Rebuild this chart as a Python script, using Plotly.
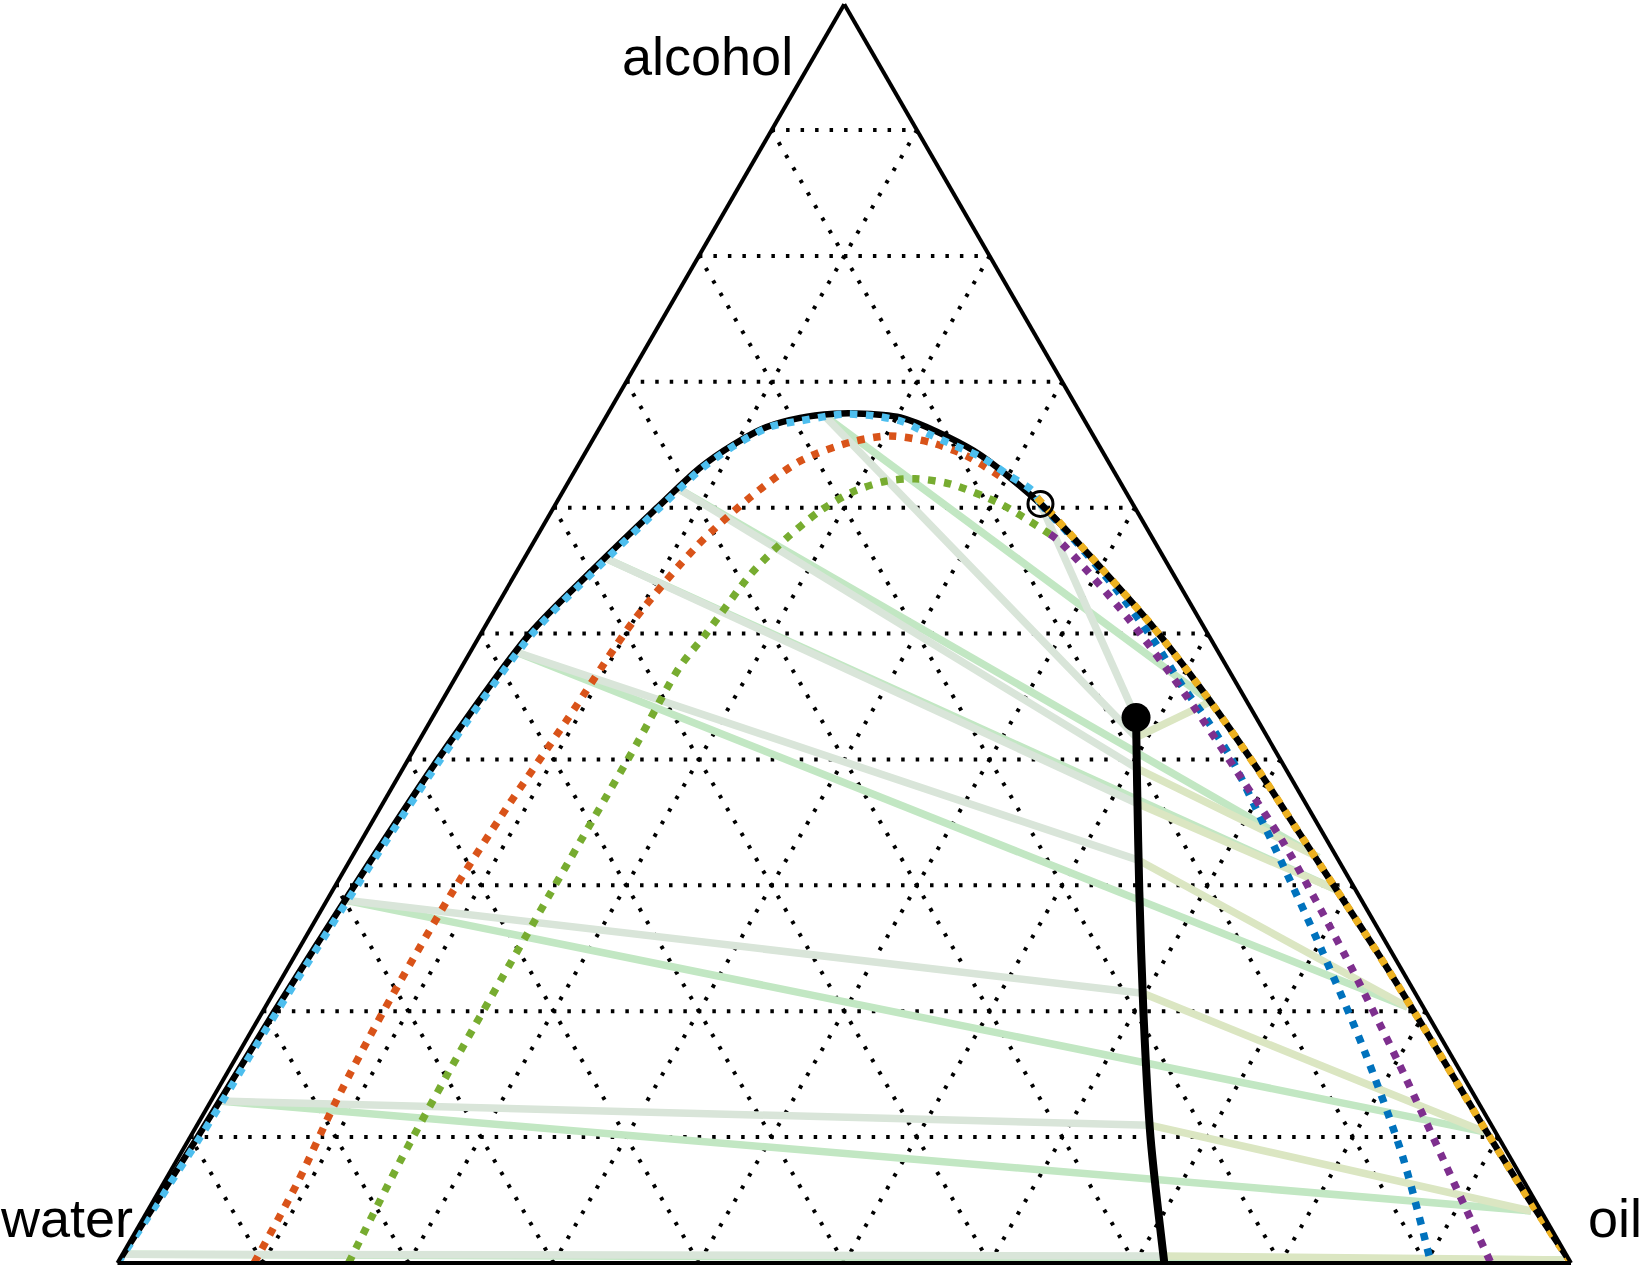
import plotly.graph_objects as go

# --- measured binodal (black), alcohol / oil fractions; water = 1 - a - c
bin_alc = [0, 0.1, 0.2, 0.3, 0.4, 0.5, 0.55, 0.6, 0.6317, 0.65, 0.6643, 0.6714, 0.6746, 0.675,
           0.6717, 0.6452, 0.603, 0.5526, 0.5077, 0.4494, 0.3887, 0.3437, 0.2488, 0.1955,
           0.106, 0.0474, 0]
bin_oil = [0, 0.0051, 0.0081, 0.0132, 0.0204, 0.0337, 0.0514, 0.0712, 0.0849, 0.0986, 0.1149,
           0.134, 0.1558, 0.168, 0.2027, 0.2665, 0.3335, 0.400, 0.4569, 0.5251, 0.5922, 0.640,
           0.7412, 0.7965, 0.888, 0.9491, 1.0]

# model 1: light blue (water-rich side) + yellow (oil-rich side)
m1_left_alc = [0, 0.1, 0.2, 0.3, 0.4, 0.5, 0.55, 0.6, 0.6317, 0.65, 0.6643, 0.669, 0.6743,
               0.673, 0.6685, 0.6585, 0.6492, 0.6399, 0.6267, 0.6135, 0.603]
m1_left_oil = [0, 0.0069, 0.0099, 0.015, 0.0222, 0.0355, 0.0532, 0.073, 0.0867, 0.1004, 0.1167,
               0.1352, 0.1623, 0.1837, 0.2055, 0.2289, 0.2518, 0.2748, 0.2986, 0.3226, 0.3335]
m1_right_alc = [0.608, 0.5526, 0.5077, 0.4494, 0.3887, 0.3437, 0.2488, 0.1955, 0.106, 0.0474, 0]
m1_right_oil = [0.3286, 0.400, 0.4569, 0.5251, 0.5922, 0.640, 0.7412, 0.7965, 0.888, 0.9491, 1.0]

# model 2: vermillion + blue
m2_left_alc = [0, 0.063, 0.13, 0.2, 0.292, 0.362, 0.431, 0.51, 0.57, 0.608, 0.637, 0.652,
               0.657, 0.652, 0.641, 0.622]
m2_left_oil = [0.094, 0.092, 0.086, 0.083, 0.083, 0.087, 0.0935, 0.100, 0.114, 0.131, 0.151,
               0.178, 0.203, 0.233, 0.264, 0.300]
m2_right_alc = [0.603, 0.5762, 0.5341, 0.4944, 0.4606, 0.431, 0.4018, 0.3635, 0.3383, 0.2471,
                0.169, 0.0848, 0]
m2_right_oil = [0.3335, 0.3689, 0.4208, 0.4658, 0.5011, 0.5343, 0.5649, 0.6005, 0.6237, 0.7055,
                0.7732, 0.8417, 0.9036]

# model 3: green + purple
m3_left_alc = [0, 0.082, 0.153, 0.292, 0.354, 0.413, 0.473, 0.5, 0.547, 0.575, 0.598, 0.613,
               0.621, 0.623, 0.619, 0.603, 0.579]
m3_left_oil = [0.159, 0.154, 0.152, 0.151, 0.151, 0.151, 0.150, 0.155, 0.162, 0.172, 0.185,
               0.2, 0.218, 0.237, 0.263, 0.306, 0.352]
m3_right_alc = [0.579, 0.5725, 0.5129, 0.4494, 0.386, 0.3331, 0.2458, 0.1611, 0.0633, 0]
m3_right_oil = [0.352, 0.3626, 0.4383, 0.5113, 0.5797, 0.636, 0.721, 0.800, 0.888, 0.9449]

# dilution path (thick black) and plait point
path_alc = [0.4333, 0.3786, 0.2952, 0.2, 0.1, 0]
path_oil = [0.4841, 0.5122, 0.5554, 0.6058, 0.6607, 0.7202]
plait_alc, plait_oil = [0.603], [0.3335]

# tie lines: left end, point on path, right end
tie_l_alc = [0.673, 0.6161, 0.5606, 0.4852, 0.2881, 0.1286, 0.007]
tie_l_oil = [0.150, 0.0764, 0.0541, 0.032, 0.013, 0.006, 0.001]
tie_p_alc = [0.4175, 0.393, 0.365, 0.3198, 0.2143, 0.1095, 0.0056]
tie_p_oil = [0.4922, 0.5048, 0.5192, 0.5429, 0.5982, 0.6555, 0.7169]
tie_r_alc = [0.446, 0.3222, 0.296, 0.2034, 0.1042, 0.0413, 0.0024]
tie_r_oil = [0.5291, 0.6653, 0.6915, 0.7858, 0.8882, 0.9519, 0.994]


def water(alc, oil):
    return [None if a is None else 1 - a - c for a, c in zip(alc, oil)]


def segments(a0, c0, a1, c1):
    alc, oil = [], []
    for p, q, r, s in zip(a0, c0, a1, c1):
        alc += [p, r, None]
        oil += [q, s, None]
    return alc, oil


def line(alc, oil, color, width, dash="solid", shape="linear"):
    return go.Scatterternary(
        a=alc, b=water(alc, oil), c=oil, mode="lines",
        line=dict(color=color, width=width, dash=dash, shape=shape, smoothing=0.8),
        hoverinfo="skip", showlegend=False,
    )


DOT = "7.5px,8.5px"
fig = go.Figure()

# tie lines
grey_a, grey_c = segments(tie_l_alc + plait_alc, tie_l_oil + plait_oil,
                          tie_p_alc + [path_alc[0]], tie_p_oil + [path_oil[0]])
yel_a, yel_c = segments(tie_p_alc, tie_p_oil, tie_r_alc, tie_r_oil)
grn_a, grn_c = segments(tie_l_alc, tie_l_oil, tie_r_alc, tie_r_oil)
fig.add_trace(line(grn_a, grn_c, "#c2e7c3", 7.5))
fig.add_trace(line(grey_a, grey_c, "#d9e5d9", 7.5))
fig.add_trace(line(yel_a, yel_c, "#dbe6c2", 7.5))

# path
fig.add_trace(line(path_alc, path_oil, "black", 8, shape="spline"))

# model curves
fig.add_trace(line(m2_left_alc, m2_left_oil, "#D95319", 7.5, DOT, "spline"))
fig.add_trace(line(m3_left_alc, m3_left_oil, "#77AC30", 7.5, DOT, "spline"))
fig.add_trace(line(m2_right_alc, m2_right_oil, "#0072BD", 7.5, DOT, "spline"))
fig.add_trace(line(m3_right_alc, m3_right_oil, "#7E2F8E", 7.5, DOT, "spline"))

# measured binodal
fig.add_trace(line(bin_alc, bin_oil, "black", 6.5, shape="spline"))
fig.add_trace(line(m1_left_alc, m1_left_oil, "#4DBEEE", 7.5, DOT, "spline"))
fig.add_trace(line(m1_right_alc, m1_right_oil, "#EDB120", 7.5, DOT, "spline"))

# markers
fig.add_trace(go.Scatterternary(
    a=plait_alc, b=water(plait_alc, plait_oil), c=plait_oil, mode="markers",
    marker=dict(symbol="circle-open", size=25, color="black", line=dict(width=3, color="black")),
    hoverinfo="skip", showlegend=False,
))
fig.add_trace(go.Scatterternary(
    a=path_alc[:1], b=water(path_alc[:1], path_oil[:1]), c=path_oil[:1], mode="markers",
    marker=dict(size=29, color="black"),
    hoverinfo="skip", showlegend=False,
))

axis = dict(
    showticklabels=False, ticks="", tick0=0, dtick=0.1, min=0,
    showgrid=True, gridcolor="black", gridwidth=3.5, griddash="3.5px,11px",
    showline=True, linecolor="black", linewidth=4, title=dict(text=""),
)

W, H = 1644, 1268
fig.update_layout(
    width=W, height=H,
    margin=dict(l=0, r=0, t=0, b=0, autoexpand=False),
    paper_bgcolor="white",
    font=dict(family="'Liberation Sans', Arial, sans-serif", color="black", size=54),
    ternary=dict(
        domain=dict(x=[117.5 / W, 1571 / W], y=[5 / H, 1 - 4.2 / H]),
        bgcolor="white", sum=1,
        aaxis=axis, baxis=axis, caxis=axis,
    ),
    annotations=[
        dict(text="alcohol", x=795 / W, y=1 - 56 / H, xref="paper", yref="paper",
             xanchor="right", yanchor="middle", showarrow=False),
        dict(text="water", x=135 / W, y=1 - 1218 / H, xref="paper", yref="paper",
             xanchor="right", yanchor="middle", showarrow=False),
        dict(text="oil", x=1586 / W, y=1 - 1218 / H, xref="paper", yref="paper",
             xanchor="left", yanchor="middle", showarrow=False),
    ],
)

# page body has a default 8px margin; drop it so the figure sits at the window origin
fig.write_html("out.html", config={"displayModeBar": False},
               post_script="document.body.style.margin='0';")
